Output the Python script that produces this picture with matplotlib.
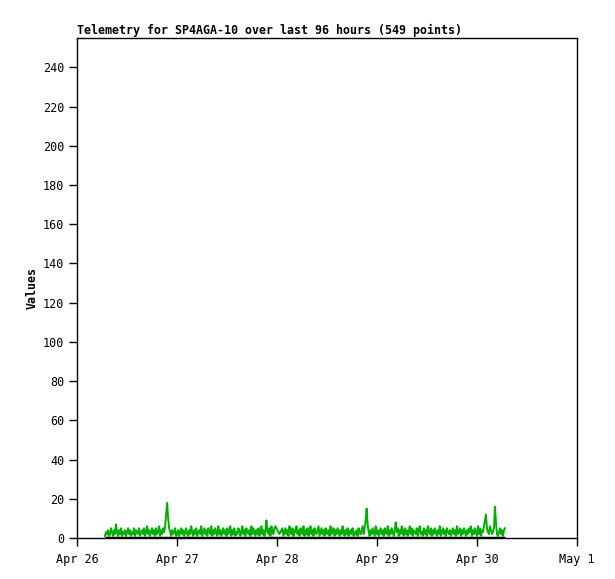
import numpy as np
import pandas as pd
import matplotlib
matplotlib.use('Agg')
import matplotlib.pyplot as plt

# telemetry readings (roughly one value per pixel)
start_time = '2025-04-26 06:43'
end_time = '2025-04-30 06:43'
values = [1, 3, 2, 4, 1, 2, 5, 3, 1, 4, 2, 7, 3, 1, 4, 2, 5, 1, 3, 2,
          4, 1, 3, 5, 2, 4, 1, 3, 2, 5, 1, 4, 3, 2, 5, 1, 3, 4, 2, 5,
          1, 3, 6, 2, 4, 1, 3, 5, 2, 4, 1, 5, 2, 3, 6, 1, 4, 2, 5, 3,
          6, 12, 18, 10, 5, 3, 1, 4, 2, 3, 5, 1, 2, 4, 1, 3, 5, 2, 4, 1,
          3, 5, 2, 1, 4, 2, 6, 3, 1, 4, 2, 5, 1, 3, 4, 2, 6, 1, 3, 5,
          2, 4, 1, 5, 3, 2, 6, 1, 4, 2, 5, 3, 1, 6, 2, 4, 1, 3, 5, 2,
          4, 1, 5, 2, 3, 6, 1, 4, 2, 5, 1, 3, 2, 5, 4, 1, 3, 6, 2, 4,
          1, 5, 3, 2, 4, 1, 6, 2, 5, 3, 1, 4, 2, 5, 1, 3, 6, 2, 4, 1,
          3, 9, 4, 2, 5, 1, 6, 3, 2, 5, 6, 5, 4, 3, 2, 3, 4, 5, 1, 3,
          5, 2, 4, 1, 6, 3, 2, 5, 1, 4, 3, 6, 2, 4, 1, 5, 3, 2, 6, 1,
          4, 2, 5, 1, 3, 6, 2, 4, 1, 5, 3, 2, 4, 6, 1, 3, 5, 2, 4, 1,
          5, 3, 2, 4, 1, 6, 2, 3, 5, 1, 4, 2, 5, 3, 1, 4, 2, 6, 3, 1,
          4, 2, 5, 1, 3, 4, 2, 5, 1, 3, 2, 4, 1, 5, 3, 2, 4, 6, 2, 5,
          9, 15, 7, 3, 1, 4, 2, 5, 3, 1, 6, 2, 4, 1, 3, 5, 2, 4, 1, 5,
          3, 2, 6, 1, 4, 2, 5, 3, 1, 4, 8, 3, 5, 1, 4, 2, 6, 3, 1, 5,
          2, 4, 1, 3, 6, 2, 5, 1, 4, 3, 2, 5, 1, 4, 6, 2, 3, 1, 5, 2,
          4, 1, 6, 3, 2, 5, 1, 4, 2, 5, 3, 1, 4, 2, 6, 1, 3, 5, 2, 4,
          1, 5, 3, 2, 4, 1, 3, 5, 2, 4, 1, 6, 2, 3, 5, 1, 4, 2, 5, 3,
          1, 4, 2, 5, 3, 6, 1, 4, 2, 5, 3, 1, 6, 2, 5, 1, 4, 3, 6, 9,
          12, 5, 3, 2, 6, 4, 2, 3, 5, 16, 8, 2, 1, 3, 5, 2, 4, 1, 4, 5]
y_ticks = [0, 20, 40, 60, 80, 100, 120, 140, 160, 180, 200, 220, 240]
x_tick_dates = ['2025-04-26', '2025-04-27', '2025-04-28', '2025-04-29', '2025-04-30', '2025-05-01']
x_tick_labels = ['Apr 26', 'Apr 27', 'Apr 28', 'Apr 29', 'Apr 30', 'May 1']

times = pd.date_range(start_time, end_time, periods=len(values))
zeros = [0] * len(values)

mono = 'DejaVu Sans Mono'

fig = plt.figure(figsize=(6.15, 5.79), dpi=100)
ax = fig.add_axes([77 / 615, 41 / 579, 500 / 615, 500 / 579])

ax.plot(times, zeros, color='black', lw=2.5, solid_capstyle='butt')
ax.plot(times, values, color='#00b000', lw=1.4)

ax.set_xlim(pd.Timestamp(x_tick_dates[0]), pd.Timestamp(x_tick_dates[-1]))
ax.set_ylim(0, 255)
ax.set_yticks(y_ticks)
ax.set_xticks([pd.Timestamp(d) for d in x_tick_dates])
ax.set_xticklabels(x_tick_labels)
ax.tick_params(direction='out', length=6, width=1, labelsize=8.5, pad=3)
for lbl in ax.get_xticklabels() + ax.get_yticklabels():
    lbl.set_family(mono)
ax.tick_params(axis='x', pad=5)

for s in ax.spines.values():
    s.set_linewidth(1)

ax.set_title('Telemetry for SP4AGA-10 over last 96 hours (549 points)', loc='left',
             family=mono, fontweight='bold', fontsize=8.4, pad=3)
ax.set_ylabel('Values', family=mono, fontweight='bold', fontsize=8.4, labelpad=3)

fig.savefig('out.png', dpi=100)
